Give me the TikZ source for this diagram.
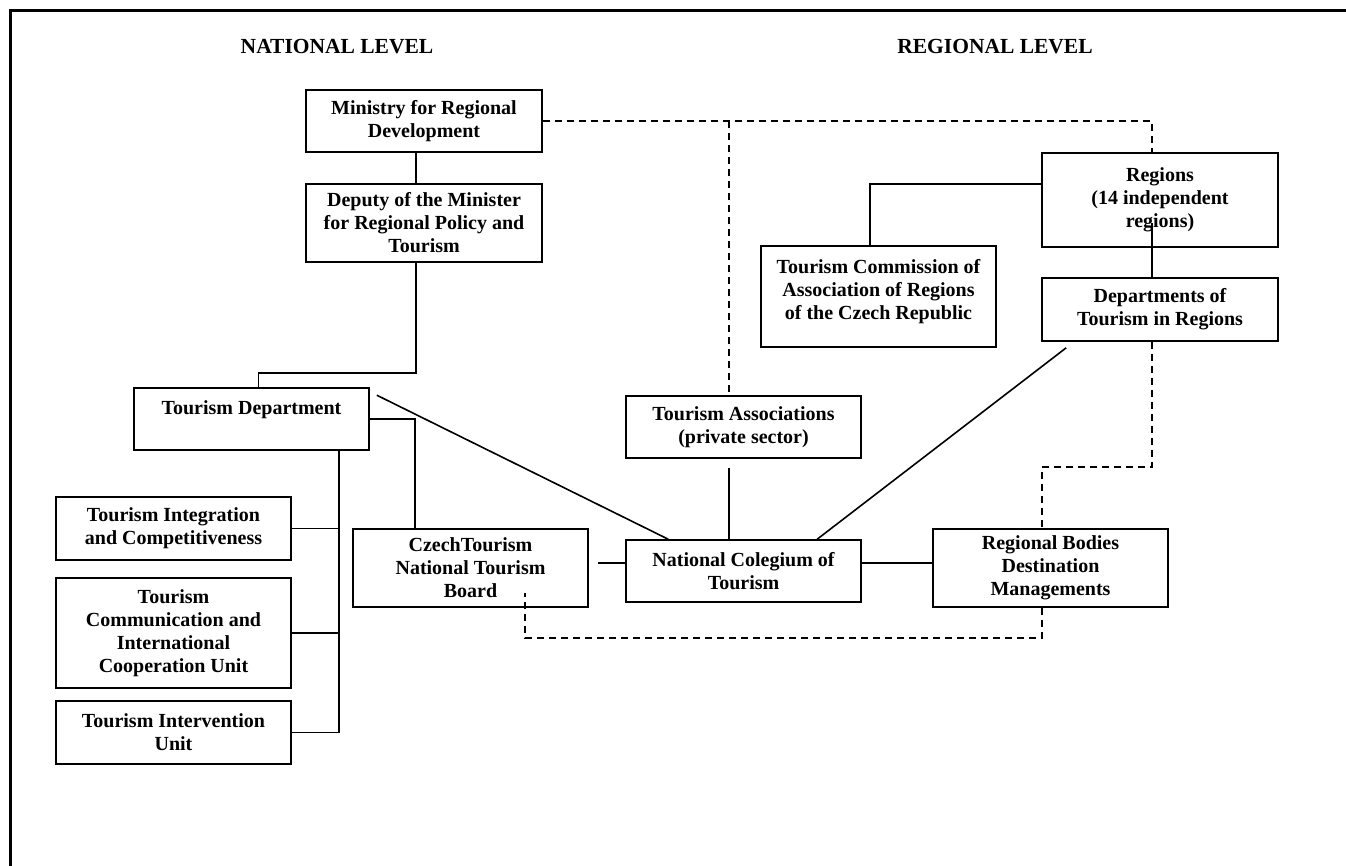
\documentclass[tikz,border=0pt]{standalone}
\usepackage{fontspec}
\setmainfont{Liberation Serif}
\usepackage{tikz}
\usetikzlibrary{calc}

\begin{document}
\begin{tikzpicture}[x=1pt, y=-1pt,
	unit/.style={draw, line width=1.6pt, fill=white, align=center, inner sep=0pt,
		font=\fontsize{20}{23}\selectfont\bfseries},
	heading/.style={font=\fontsize{21.5}{24}\selectfont\bfseries},
	link/.style={line width=1.6pt},
	dashlink/.style={line width=1.6pt, dash pattern=on 7pt off 5pt}]
		\useasboundingbox (0,0) rectangle (1346,866);
		%% Frame (only top and left edges are visible)
		\draw[line width=3pt] (10,866) -- (10,11) -- (1346,11);

		%% Headings
		\node[heading] (natlevel) at (337,47) {NATIONAL LEVEL};
		\node[heading] (reglevel) at (995,47) {REGIONAL LEVEL};

		%% National level
		\node[unit, minimum width=236, minimum height=62] (ministry) at (424,121)
			{Ministry for Regional\\Development};
		\node[unit, minimum width=236, minimum height=78] (deputy) at (424,223)
			{Deputy of the Minister\\for Regional Policy and\\Tourism};
		\node[unit, minimum width=235, minimum height=62] (tdept) at (251.5,419)
			{Tourism Department\\~};
		\node[unit, minimum width=235, minimum height=63] (integ) at (173.5,528.5)
			{Tourism Integration\\and Competitiveness};
		\node[unit, minimum width=235, minimum height=110] (comm) at (173.5,633)
			{Tourism\\Communication and\\International\\Cooperation Unit};
		\node[unit, minimum width=235, minimum height=63] (interv) at (173.5,732.5)
			{Tourism Intervention\\Unit};
		\node[unit, minimum width=235, minimum height=78] (czech) at (470.5,568)
			{CzechTourism\\National Tourism\\Board};
		\node[unit, minimum width=235, minimum height=62] (colegium) at (743.5,571)
			{National Colegium of\\Tourism};
		\node[unit, minimum width=235, minimum height=62] (assoc) at (743.5,427)
			{Tourism Associations\\(private sector)};

		%% Regional level
		\node[unit, minimum width=236, minimum height=94] (regions) at (1160,200)
			{Regions\\(14 independent\\regions)};
		\node[unit, minimum width=236, minimum height=63] (depts) at (1160,309.5)
			{Departments of\\Tourism in Regions};
		\node[unit, minimum width=235, minimum height=101] (commission) at (878.5,296.5)
			{Tourism Commission of\\Association of Regions\\of the Czech Republic\\[-9pt]~};
		\node[unit, minimum width=235, minimum height=78] (rbodies) at (1050.5,568)
			{Regional Bodies\\Destination\\Managements};

		%% Helper points
		\coordinate (bus) at ([xshift=-31pt]tdept.south east);
		\coordinate (assocx) at ([xshift=-14.5pt]assoc.south);
		\coordinate (czechx) at ([xshift=9pt, yshift=5pt]czech.east);

		%% Solid links
		\draw[link] ([xshift=-8pt]ministry.south) -- ([xshift=-8pt]deputy.north);
		\draw[link] ([xshift=-8pt]deputy.south) -- ++(0,110) -| ([xshift=7pt]tdept.north);
		\draw[link] ([shift={(7pt,-8pt)}]tdept.north east) -- ([xshift=43pt]colegium.north west);
		\draw[link] (tdept.east) -| ([xshift=63pt]czech.north west);
		\draw[link] (bus) |- (interv.east);
		\draw[link] (integ.east) -- (integ.east -| bus);
		\draw[link] (comm.east) -- (comm.east -| bus);
		\draw[link] (czechx) -- (czechx -| colegium.west);
		\draw[link] ([yshift=8pt]colegium.east) -- ([yshift=8pt]colegium.east -| rbodies.west);
		\draw[link] ([yshift=-9pt]assocx) -- (assocx |- colegium.north);
		\draw[link] ([xshift=192pt]colegium.north west) -- ([shift={(25pt,-6pt)}]depts.south west);
		\draw[link] ([yshift=16pt]regions.west) -| ([xshift=-8.5pt]commission.north);
		\draw[link] ([shift={(-8pt,-23pt)}]regions.center) -- ([xshift=-8pt]depts.north);

		%% Dashed links
		\draw[dashlink] (ministry.east) -| ([xshift=-8pt]regions.north);
		\draw[dashlink] (assocx |- ministry.east) -- (assocx |- assoc.north);
		\draw[dashlink] ([xshift=-8pt]depts.south) -- ++(0,125) -| ([xshift=-8.5pt]rbodies.north);
		\draw[dashlink] ([xshift=-8.5pt]rbodies.south) -- ++(0,30) -| ([shift={(173pt,15pt)}]czech.south west);
	\end{tikzpicture}
\end{document}
